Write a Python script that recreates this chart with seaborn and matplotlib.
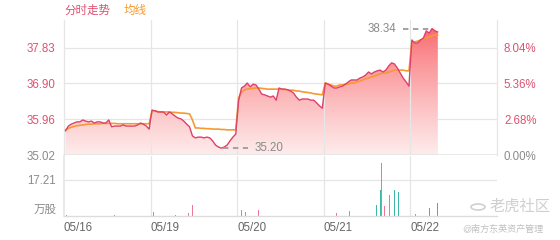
import numpy as np
import pandas as pd
import matplotlib
matplotlib.use("Agg")
import matplotlib.pyplot as plt
import seaborn as sns

# ---------------- data ----------------
day_labels = ["05/16", "05/19", "05/20", "05/21", "05/22"]
pre_close = 35.02
left_ticks = [35.02, 35.96, 36.90, 37.83]
right_ticks = ["0.00%", "2.68%", "5.36%", "8.04%"]
vol_tick = 17.21

# price sampled every 8 minutes (30 samples per 240-minute session)
price_d1 = [35.65, 35.78, 35.83, 35.86, 35.89, 35.89, 35.94, 35.91, 35.89, 35.91,
            35.86, 35.89, 35.89, 35.86, 35.86, 35.94, 35.76, 35.78, 35.78, 35.78,
            35.81, 35.78, 35.78, 35.78, 35.78, 35.81, 35.86, 35.83, 35.78, 35.70]
price_d2 = [36.20, 36.18, 36.15, 36.15, 36.15, 36.07, 36.15, 36.10, 36.04, 35.99,
            35.97, 35.91, 35.83, 35.76, 35.52, 35.47, 35.49, 35.49, 35.47, 35.49,
            35.47, 35.39, 35.28, 35.23, 35.20, 35.23, 35.28, 35.39, 35.49, 35.57]
price_d3 = [36.46, 36.78, 36.83, 36.91, 36.81, 36.88, 36.86, 36.75, 36.62, 36.60,
            36.57, 36.54, 36.57, 36.46, 36.78, 36.75, 36.75, 36.73, 36.70, 36.65,
            36.54, 36.46, 36.49, 36.49, 36.49, 36.46, 36.46, 36.39, 36.31, 36.25]
price_d4 = [36.91, 36.88, 36.83, 36.78, 36.78, 36.81, 36.83, 36.88, 36.94, 36.99,
            36.99, 36.99, 37.04, 37.07, 37.12, 37.20, 37.15, 37.20, 37.23, 37.25,
            37.20, 37.25, 37.36, 37.44, 37.41, 37.30, 37.17, 37.04, 36.94, 36.83]
price_d5 = [38.04, 37.96, 37.96, 38.04, 38.09, 38.28, 38.22, 38.34, 38.28, 38.25]

avg_d1 = [35.68, 35.72, 35.75, 35.77, 35.79, 35.80, 35.81, 35.82, 35.83, 35.83,
          35.84, 35.84, 35.84, 35.85, 35.85, 35.85, 35.85, 35.85, 35.84, 35.84,
          35.84, 35.84, 35.84, 35.84, 35.84, 35.84, 35.84, 35.84, 35.84, 35.84]
avg_d2 = [36.18, 36.18, 36.16, 36.15, 36.15, 36.15, 36.15, 36.14, 36.14, 36.13,
          36.12, 36.12, 36.11, 36.10, 35.94, 35.73, 35.73, 35.72, 35.72, 35.71,
          35.71, 35.70, 35.70, 35.70, 35.69, 35.69, 35.68, 35.68, 35.68, 35.68]
avg_d3 = [36.52, 36.67, 36.73, 36.75, 36.76, 36.77, 36.78, 36.78, 36.77, 36.76,
          36.75, 36.75, 36.75, 36.75, 36.75, 36.75, 36.74, 36.73, 36.72, 36.72,
          36.70, 36.70, 36.68, 36.67, 36.66, 36.65, 36.63, 36.62, 36.61, 36.60]
avg_d4 = [36.91, 36.88, 36.86, 36.83, 36.83, 36.86, 36.86, 36.88, 36.88, 36.91,
          36.91, 36.94, 36.96, 36.99, 37.02, 37.04, 37.07, 37.09, 37.12, 37.15,
          37.17, 37.17, 37.20, 37.22, 37.25, 37.25, 37.25, 37.25, 37.23, 37.23]
avg_d5 = [37.99, 37.99, 38.01, 38.04, 38.07, 38.09, 38.12, 38.15, 38.17, 38.17]

# volume (万股): minute index across the 5 sessions, value, up(1)/down(0)
vol_minute = [8, 139, 247, 255, 266, 310, 344, 357, 363,
              488, 493, 504, 521, 535, 538, 676, 682,
              715, 729, 756, 773, 792, 826, 837, 845, 867, 873, 878, 881, 884,
              889, 903, 909, 917, 926, 937, 942, 948,
              967, 975, 1014, 1020, 1028, 1034, 1036]
vol_value = [0.5, 0.4, 2.0, 1.0, 0.8, 0.6, 1.5, 5.3, 2.0,
             3.5, 3.0, 2.0, 4.5, 5.0, 3.0, 2.0, 2.5,
             1.0, 1.2, 1.5, 2.0, 2.5, 1.5, 3.8, 15.3, 5.3, 4.5, 12.4, 25.3, 8.6,
             5.0, 10.0, 7.0, 12.4, 11.5, 3.0, 2.5, 2.0,
             2.0, 1.0, 4.0, 4.0, 4.0, 5.0, 6.0]
vol_up = [1, 1, 1, 1, 1, 0, 1, 1, 1,
          1, 1, 1, 1, 1, 1, 0, 0,
          1, 1, 1, 1, 1, 0, 0, 1, 0, 0, 0, 1, 1,
          1, 1, 1, 0, 0, 0, 0, 0,
          1, 1, 0, 0, 0, 1, 0]

# ---------------- build frame ----------------
prices = [price_d1, price_d2, price_d3, price_d4, price_d5]
avgs = [avg_d1, avg_d2, avg_d3, avg_d4, avg_d5]
rows = []
for d, (p, a) in enumerate(zip(prices, avgs)):
    for i, (pv, av) in enumerate(zip(p, a)):
        rows.append({"minute": d * 240 + i * 8 + 4, "price": pv, "avg": av})
df = pd.DataFrame(rows)
vdf = pd.DataFrame({"minute": vol_minute, "vol": vol_value, "up": vol_up})

# ---------------- style ----------------
sns.set_theme(style="white")
plt.rcParams["font.family"] = ["Liberation Sans", "Noto Sans CJK SC", "DejaVu Sans"]

RED = "#e0406a"
RED_TXT = "#e05070"
ORANGE = "#f59a32"
GREY_TXT = "#8a8a8a"
GRID = "#e6e6e6"
TEAL = "#3fb7a7"
PINK = "#ec7893"
FS = 8.3

W, H = 560, 240
fig = plt.figure(figsize=(W / 100, H / 100), dpi=100)
x0, x1 = 64, 497
ax = fig.add_axes([x0 / W, 1 - 155 / H, (x1 - x0) / W, (155 - 20) / H])
axv = fig.add_axes([x0 / W, 1 - 216 / H, (x1 - x0) / W, (216 - 156) / H])

ymin, ymax = pre_close, 38.565
xmax = 1200

# gradient fill under price
poly = ax.fill_between(df["minute"], df["price"], ymin, color="none", lw=0)
n = 256
t = np.linspace(0, 1, n) ** 0.8
top = np.array([248, 92, 98]) / 255
bot = np.array([254, 236, 236]) / 255
cols = top[None, :] * (1 - t[:, None]) + bot[None, :] * t[:, None]
rgba = np.ones((n, 1, 4))
rgba[:, 0, :3] = cols
im = ax.imshow(rgba, extent=[0, xmax, ymin, ymax], aspect="auto",
               origin="upper", zorder=1, interpolation="bilinear")
im.set_clip_path(poly.get_paths()[0], transform=ax.transData)

sns.lineplot(data=df, x="minute", y="avg", ax=ax, color=ORANGE, lw=1.2, zorder=3)
sns.lineplot(data=df, x="minute", y="price", ax=ax, color=RED, lw=1.0, zorder=4)

ax.set_xlim(0, xmax)
ax.set_ylim(ymin, ymax)
ax.set_xlabel("")
ax.set_ylabel("")
ax.set_xticks([])
ax.set_yticks(left_ticks)
ax.set_yticklabels([f"{v:.2f}" for v in left_ticks], fontsize=FS)
for i, lab in enumerate(ax.get_yticklabels()):
    lab.set_color(GREY_TXT if i == 0 else RED_TXT)
ax.tick_params(axis="y", length=0, pad=6)
for v in left_ticks[1:]:
    ax.axhline(v, color=GRID, lw=0.9, zorder=0)
for s in ["top", "bottom"]:
    ax.spines[s].set_visible(False)
for s in ["left", "right"]:
    ax.spines[s].set_color(GRID)
    ax.spines[s].set_linewidth(0.9)
ax.axhline(ymin, color=GRID, lw=1.2, zorder=5)

ax2 = ax.twinx()
ax2.set_ylim(ymin, ymax)
ax2.set_yticks(left_ticks)
ax2.set_yticklabels(right_ticks, fontsize=FS)
for i, lab in enumerate(ax2.get_yticklabels()):
    lab.set_color(GREY_TXT if i == 0 else RED_TXT)
ax2.tick_params(axis="y", length=0, pad=5)
for s in ax2.spines.values():
    s.set_visible(False)
ax2.grid(False)

for b in [240, 480, 720, 960]:
    ax.axvline(b, color=GRID, lw=0.9, zorder=2)
    axv.axvline(b, color=GRID, lw=0.9, zorder=0)

# extrema annotations
imax = df["price"].idxmax()
imin = df["price"].idxmin()
mx, my = df.loc[imax, "minute"], df.loc[imax, "price"]
nx, ny = df.loc[imin, "minute"], df.loc[imin, "price"]
ax.plot([mx - 80, mx - 5], [my, my], ls=(0, (3, 2.5)), color="#9a9aa6", lw=1.3, zorder=6)
ax.text(mx - 100, my, f"{my:.2f}", ha="right", va="center", fontsize=FS, color=GREY_TXT)
ax.plot([nx + 5, nx + 75], [ny, ny], ls=(0, (3, 2.5)), color="#9a9aa6", lw=1.3, zorder=6)
ax.text(nx + 92, ny, f"{ny:.2f}", ha="left", va="center", fontsize=FS, color=GREY_TXT)

# volume
bar_colors = [PINK if u else TEAL for u in vdf["up"]]
axv.bar(vdf["minute"], vdf["vol"], width=2.2, color=bar_colors, lw=0, zorder=2)
axv.set_xlim(0, xmax)
axv.set_ylim(0, vol_tick * 60 / 36)
axv.set_yticks([vol_tick])
axv.set_yticklabels([f"{vol_tick:.2f}"], fontsize=FS, color=GREY_TXT)
axv.axhline(vol_tick, color=GRID, lw=0.9, zorder=0)
axv.tick_params(axis="y", length=0, pad=6)
axv.set_xticks([0, 240, 480, 720, 960])
axv.set_xticklabels(day_labels, fontsize=FS, color="#666666", ha="left")
axv.tick_params(axis="x", length=0, pad=4)
for s in ["top", "right"]:
    axv.spines[s].set_visible(False)
axv.spines["left"].set_color(GRID)
axv.spines["bottom"].set_color("#dcdcdc")
axv.spines["bottom"].set_linewidth(1.0)
axv.text(-0.018, 0.1, "万股", transform=axv.transAxes, ha="right", va="center",
         fontsize=FS, color=GREY_TXT)

# legend texts
fig.text(64 / W, 1 - 11 / H, "分时走势", color=RED_TXT, fontsize=FS, va="center")
fig.text(124 / W, 1 - 11 / H, "均线", color=ORANGE, fontsize=FS, va="center")

# watermark
circ = plt.Circle((478 / W, 1 - 207 / H), 7 / W, transform=fig.transFigure,
                  fill=False, ec="#d0d0d0", lw=1.2)
fig.add_artist(circ)
fig.text(490 / W, 1 - 207 / H, "老虎社区", color="#cfcfcf", fontsize=11, va="center")
fig.text(462 / W, 1 - 229 / H, "@南方东英资产管理", color="#c0c0c0", fontsize=6.5, va="center")

fig.savefig("out.png", dpi=100)
